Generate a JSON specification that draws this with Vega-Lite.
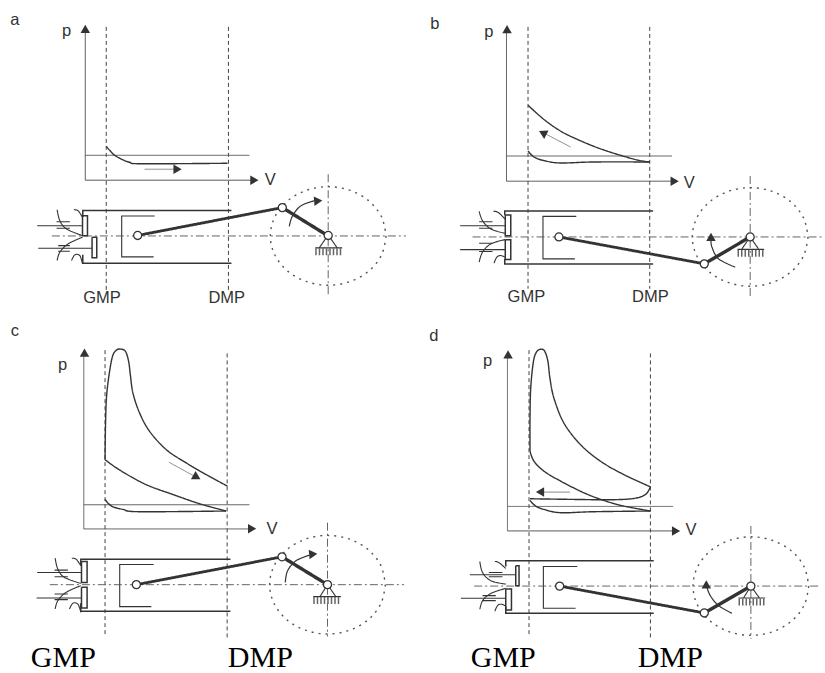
{"$schema":"https://vega.github.io/schema/vega-lite/v6.json","width":825,"height":673,"padding":0,"autosize":{"type":"fit","contains":"padding"},"background":"white","view":{"stroke":null},
"datasets":{
"straight":[
{"s":"a1","k":"axis","x":85.5,"y":30},{"s":"a1","k":"axis","x":85.5,"y":181},{"s":"a1","k":"axis","x":252,"y":181},
{"s":"a2","k":"tdc","x":106.5,"y":27},{"s":"a2","k":"tdc","x":106.5,"y":292},
{"s":"a3","k":"tdc","x":229,"y":27},{"s":"a3","k":"tdc","x":229,"y":292},
{"s":"a4","k":"axis","x":85.5,"y":156},{"s":"a4","k":"axis","x":250,"y":156},
{"s":"a5","k":"arrow","x":145,"y":170},{"s":"a5","k":"arrow","x":175,"y":170},
{"s":"a6","k":"wall","x":83,"y":218},{"s":"a6","k":"wall","x":83,"y":211.5},{"s":"a6","k":"wall","x":232,"y":211.5},
{"s":"a7","k":"wall","x":83,"y":256},{"s":"a7","k":"wall","x":83,"y":264.5},{"s":"a7","k":"wall","x":232,"y":264.5},
{"s":"a8","k":"guide","x":155,"y":217},{"s":"a8","k":"guide","x":122,"y":217},{"s":"a8","k":"guide","x":122,"y":258},{"s":"a8","k":"guide","x":154,"y":258},
{"s":"a9","k":"centre","x":52,"y":237},{"s":"a9","k":"centre","x":407,"y":237},
{"s":"a10","k":"centre","x":329,"y":175},{"s":"a10","k":"centre","x":329,"y":297},
{"s":"a11","k":"rod","x":138,"y":236.5},{"s":"a11","k":"rod","x":283,"y":208.5},
{"s":"a12","k":"crank","x":283,"y":208.5},{"s":"a12","k":"crank","x":329,"y":237},
{"s":"a13","k":"guide","x":320,"y":249},{"s":"a13","k":"guide","x":329,"y":236},{"s":"a13","k":"guide","x":338,"y":249},
{"s":"a14","k":"guide","x":316,"y":249},{"s":"a14","k":"guide","x":343,"y":249},
{"s":"a15","k":"hatch","x":316,"y":253},{"s":"a15","k":"hatch","x":343,"y":253},
{"s":"a16","k":"wall","x":82.7,"y":216.7},{"s":"a16","k":"wall","x":87.7,"y":216.7},{"s":"a16","k":"wall","x":87.7,"y":236.7},{"s":"a16","k":"wall","x":82.7,"y":236.7},{"s":"a16","k":"wall","x":82.7,"y":216.7},
{"s":"a17","k":"wall","x":92.3,"y":238.3},{"s":"a17","k":"wall","x":97,"y":238.3},{"s":"a17","k":"wall","x":97,"y":259},{"s":"a17","k":"wall","x":92.3,"y":259},{"s":"a17","k":"wall","x":92.3,"y":238.3},
{"s":"a18","k":"guide","x":37.3,"y":226.7},{"s":"a18","k":"guide","x":82.7,"y":226.7},
{"s":"a19","k":"guide","x":38.3,"y":249.3},{"s":"a19","k":"guide","x":92.3,"y":249.3},
{"s":"a20","k":"guide","x":56.7,"y":222.7},{"s":"a20","k":"guide","x":70,"y":222.7},
{"s":"a21","k":"guide","x":56.7,"y":229.3},{"s":"a21","k":"guide","x":70,"y":229.3},
{"s":"a22","k":"guide","x":58.3,"y":246.7},{"s":"a22","k":"guide","x":70,"y":246.7},
{"s":"a23","k":"guide","x":58.3,"y":252.3},{"s":"a23","k":"guide","x":70,"y":252.3},

{"s":"b1","k":"axis","x":507.7,"y":30},{"s":"b1","k":"axis","x":507.7,"y":182},{"s":"b1","k":"axis","x":674,"y":182},
{"s":"b2","k":"tdc","x":529.3,"y":27},{"s":"b2","k":"tdc","x":529.3,"y":290},
{"s":"b3","k":"tdc","x":651.3,"y":27},{"s":"b3","k":"tdc","x":651.3,"y":290},
{"s":"b4","k":"axis","x":507.7,"y":156.7},{"s":"b4","k":"axis","x":673.7,"y":156.7},
{"s":"b5","k":"arrow","x":572,"y":147.7},{"s":"b5","k":"arrow","x":545,"y":133.5},
{"s":"b6","k":"wall","x":506,"y":216},{"s":"b6","k":"wall","x":506,"y":212},{"s":"b6","k":"wall","x":654.7,"y":212},
{"s":"b7","k":"wall","x":506,"y":260},{"s":"b7","k":"wall","x":506,"y":265.3},{"s":"b7","k":"wall","x":654.7,"y":265.3},
{"s":"b8","k":"guide","x":577.7,"y":217.3},{"s":"b8","k":"guide","x":544.3,"y":217.3},{"s":"b8","k":"guide","x":544.3,"y":260},{"s":"b8","k":"guide","x":576.3,"y":260},
{"s":"b9","k":"centre","x":473.7,"y":238},{"s":"b9","k":"centre","x":825,"y":238},
{"s":"b10","k":"centre","x":752,"y":176.7},{"s":"b10","k":"centre","x":752,"y":298},
{"s":"b11","k":"rod","x":560.3,"y":238},{"s":"b11","k":"rod","x":706,"y":265},
{"s":"b12","k":"crank","x":706,"y":265},{"s":"b12","k":"crank","x":752,"y":238},
{"s":"b13","k":"guide","x":743.7,"y":250},{"s":"b13","k":"guide","x":752,"y":238},{"s":"b13","k":"guide","x":760.3,"y":250},
{"s":"b14","k":"guide","x":739.3,"y":250.5},{"s":"b14","k":"guide","x":766,"y":250.5},
{"s":"b15","k":"hatch","x":739.3,"y":254.5},{"s":"b15","k":"hatch","x":766,"y":254.5},
{"s":"b16","k":"wall","x":506.5,"y":216},{"s":"b16","k":"wall","x":512,"y":216},{"s":"b16","k":"wall","x":512,"y":236.7},{"s":"b16","k":"wall","x":506.5,"y":236.7},{"s":"b16","k":"wall","x":506.5,"y":216},
{"s":"b17","k":"wall","x":506.5,"y":240.7},{"s":"b17","k":"wall","x":512,"y":240.7},{"s":"b17","k":"wall","x":512,"y":260.7},{"s":"b17","k":"wall","x":506.5,"y":260.7},{"s":"b17","k":"wall","x":506.5,"y":240.7},
{"s":"b18","k":"guide","x":461.3,"y":226.7},{"s":"b18","k":"guide","x":506.3,"y":226.7},
{"s":"b19","k":"guide","x":461.3,"y":250.7},{"s":"b19","k":"guide","x":506.3,"y":250.7},
{"s":"b20","k":"guide","x":480.3,"y":222.7},{"s":"b20","k":"guide","x":493.7,"y":222.7},
{"s":"b21","k":"guide","x":480.3,"y":229.3},{"s":"b21","k":"guide","x":493.7,"y":229.3},
{"s":"b22","k":"guide","x":480.3,"y":244.3},{"s":"b22","k":"guide","x":493.7,"y":244.3},
{"s":"b23","k":"guide","x":480.3,"y":252.7},{"s":"b23","k":"guide","x":493.7,"y":252.7},

{"s":"c1","k":"axis","x":84,"y":357},{"s":"c1","k":"axis","x":84,"y":531.3},{"s":"c1","k":"axis","x":250,"y":531.3},
{"s":"c2","k":"tdc","x":105.3,"y":351.7},{"s":"c2","k":"tdc","x":105.3,"y":638.3},
{"s":"c3","k":"tdc","x":227.7,"y":355},{"s":"c3","k":"tdc","x":227.7,"y":641.7},
{"s":"c4","k":"axis","x":84,"y":507},{"s":"c4","k":"axis","x":250,"y":507},
{"s":"c5","k":"arrow","x":169.3,"y":464.3},{"s":"c5","k":"arrow","x":196.7,"y":479.3},
{"s":"c6","k":"wall","x":81,"y":568},{"s":"c6","k":"wall","x":81,"y":561.7},{"s":"c6","k":"wall","x":231,"y":561.7},
{"s":"c7","k":"wall","x":81,"y":606},{"s":"c7","k":"wall","x":81,"y":614},{"s":"c7","k":"wall","x":231,"y":614},
{"s":"c8","k":"guide","x":154,"y":567},{"s":"c8","k":"guide","x":120,"y":567},{"s":"c8","k":"guide","x":120,"y":609.3},{"s":"c8","k":"guide","x":151.7,"y":609.3},
{"s":"c9","k":"centre","x":50,"y":587.3},{"s":"c9","k":"centre","x":405,"y":587.3},
{"s":"c10","k":"centre","x":328.3,"y":525},{"s":"c10","k":"centre","x":328.3,"y":639.3},
{"s":"c11","k":"rod","x":136.7,"y":587.3},{"s":"c11","k":"rod","x":282.7,"y":559.3},
{"s":"c12","k":"crank","x":282.7,"y":559.3},{"s":"c12","k":"crank","x":328.3,"y":587.3},
{"s":"c13","k":"guide","x":320.7,"y":599.3},{"s":"c13","k":"guide","x":328.3,"y":587.3},{"s":"c13","k":"guide","x":336.7,"y":599.3},
{"s":"c14","k":"guide","x":314,"y":599.3},{"s":"c14","k":"guide","x":341.7,"y":599.3},
{"s":"c15","k":"hatch","x":314,"y":603.3},{"s":"c15","k":"hatch","x":341.7,"y":603.3},
{"s":"c16","k":"wall","x":81.7,"y":564},{"s":"c16","k":"wall","x":87.3,"y":564},{"s":"c16","k":"wall","x":87.3,"y":585},{"s":"c16","k":"wall","x":81.7,"y":585},{"s":"c16","k":"wall","x":81.7,"y":564},
{"s":"c17","k":"wall","x":81.7,"y":590},{"s":"c17","k":"wall","x":87.3,"y":590},{"s":"c17","k":"wall","x":87.3,"y":610.7},{"s":"c17","k":"wall","x":81.7,"y":610.7},{"s":"c17","k":"wall","x":81.7,"y":590},
{"s":"c18","k":"guide","x":37.3,"y":575},{"s":"c18","k":"guide","x":81.7,"y":575},
{"s":"c19","k":"guide","x":36.7,"y":600.7},{"s":"c19","k":"guide","x":81.7,"y":600.7},
{"s":"c20","k":"guide","x":54.7,"y":572.7},{"s":"c20","k":"guide","x":68,"y":572.7},
{"s":"c21","k":"guide","x":54.7,"y":579.3},{"s":"c21","k":"guide","x":68,"y":579.3},
{"s":"c22","k":"guide","x":54.7,"y":596.7},{"s":"c22","k":"guide","x":68,"y":596.7},
{"s":"c23","k":"guide","x":54.7,"y":602.3},{"s":"c23","k":"guide","x":68,"y":602.3},

{"s":"d1","k":"axis","x":508.7,"y":359},{"s":"d1","k":"axis","x":508.7,"y":533.3},{"s":"d1","k":"axis","x":675,"y":533.3},
{"s":"d2","k":"tdc","x":530.3,"y":351.7},{"s":"d2","k":"tdc","x":530.3,"y":638.3},
{"s":"d3","k":"tdc","x":652,"y":355},{"s":"d3","k":"tdc","x":652,"y":641.7},
{"s":"d4","k":"axis","x":508.7,"y":508.7},{"s":"d4","k":"axis","x":674.7,"y":508.7},
{"s":"d5","k":"arrow","x":571.3,"y":494.3},{"s":"d5","k":"arrow","x":543,"y":494.3},
{"s":"d6","k":"wall","x":507,"y":569},{"s":"d6","k":"wall","x":507,"y":563.3},{"s":"d6","k":"wall","x":655.3,"y":563.3},
{"s":"d7","k":"wall","x":507,"y":609},{"s":"d7","k":"wall","x":507,"y":616},{"s":"d7","k":"wall","x":655.3,"y":616},
{"s":"d8","k":"guide","x":578.7,"y":569},{"s":"d8","k":"guide","x":544.7,"y":569},{"s":"d8","k":"guide","x":544.7,"y":611},{"s":"d8","k":"guide","x":577,"y":611},
{"s":"d9","k":"centre","x":475.3,"y":588.7},{"s":"d9","k":"centre","x":820.3,"y":588.7},
{"s":"d10","k":"centre","x":752.7,"y":528.3},{"s":"d10","k":"centre","x":752.7,"y":641.7},
{"s":"d11","k":"rod","x":561,"y":588.7},{"s":"d11","k":"rod","x":706,"y":615.7},
{"s":"d12","k":"crank","x":706,"y":615.7},{"s":"d12","k":"crank","x":752.7,"y":588.7},
{"s":"d13","k":"guide","x":745.3,"y":600.7},{"s":"d13","k":"guide","x":752.7,"y":588.7},{"s":"d13","k":"guide","x":761.3,"y":600.7},
{"s":"d14","k":"guide","x":740.3,"y":600.7},{"s":"d14","k":"guide","x":767,"y":600.7},
{"s":"d15","k":"hatch","x":740.3,"y":604.7},{"s":"d15","k":"hatch","x":767,"y":604.7},
{"s":"d16","k":"wall","x":517,"y":568.3},{"s":"d16","k":"wall","x":520.3,"y":568.3},{"s":"d16","k":"wall","x":520.3,"y":588.3},{"s":"d16","k":"wall","x":517,"y":588.3},{"s":"d16","k":"wall","x":517,"y":568.3},
{"s":"d17","k":"wall","x":507,"y":591.7},{"s":"d17","k":"wall","x":512.7,"y":591.7},{"s":"d17","k":"wall","x":512.7,"y":612.7},{"s":"d17","k":"wall","x":507,"y":612.7},{"s":"d17","k":"wall","x":507,"y":591.7},
{"s":"d18","k":"guide","x":471,"y":577.3},{"s":"d18","k":"guide","x":517,"y":577.3},
{"s":"d19","k":"guide","x":462,"y":601},{"s":"d19","k":"guide","x":507,"y":601},
{"s":"d20","k":"guide","x":490,"y":575},{"s":"d20","k":"guide","x":503.7,"y":575},
{"s":"d21","k":"guide","x":490,"y":579.3},{"s":"d21","k":"guide","x":503.7,"y":579.3},
{"s":"d22","k":"guide","x":483.7,"y":598.3},{"s":"d22","k":"guide","x":497,"y":598.3},
{"s":"d23","k":"guide","x":483.7,"y":603.3},{"s":"d23","k":"guide","x":497,"y":603.3}
],
"smooth":[
{"s":"a30","k":"curve","x":106.5,"y":147},{"s":"a30","k":"curve","x":110,"y":151},{"s":"a30","k":"curve","x":115,"y":156},{"s":"a30","k":"curve","x":122,"y":160},{"s":"a30","k":"curve","x":130,"y":163},{"s":"a30","k":"curve","x":142,"y":164.5},{"s":"a30","k":"curve","x":228,"y":164},
{"s":"a31","k":"guide","x":57.3,"y":210.7},{"s":"a31","k":"guide","x":60,"y":221.7},{"s":"a31","k":"guide","x":66.7,"y":230},{"s":"a31","k":"guide","x":82.7,"y":236.7},
{"s":"a32","k":"guide","x":74,"y":210.7},{"s":"a32","k":"guide","x":78.3,"y":211.7},{"s":"a32","k":"guide","x":82.7,"y":218.3},
{"s":"a33","k":"guide","x":57.3,"y":261.7},{"s":"a33","k":"guide","x":60,"y":253.3},{"s":"a33","k":"guide","x":68.3,"y":245},{"s":"a33","k":"guide","x":82.7,"y":238.3},
{"s":"a34","k":"guide","x":71.7,"y":261.7},{"s":"a34","k":"guide","x":75,"y":256},{"s":"a34","k":"guide","x":80,"y":256.7},{"s":"a34","k":"guide","x":82.7,"y":265},
{"s":"a35","k":"arrow2","x":290,"y":227.3},{"s":"a35","k":"arrow2","x":293.3,"y":216.7},{"s":"a35","k":"arrow2","x":301.7,"y":206.7},{"s":"a35","k":"arrow2","x":315,"y":201.7},
{"s":"a36","k":"circle","x":387,"y":237},{"s":"a36","k":"circle","x":382.6,"y":255.9},{"s":"a36","k":"circle","x":370,"y":272},{"s":"a36","k":"circle","x":351.2,"y":282.7},{"s":"a36","k":"circle","x":329,"y":286.5},{"s":"a36","k":"circle","x":306.8,"y":282.7},{"s":"a36","k":"circle","x":288,"y":272},{"s":"a36","k":"circle","x":275.4,"y":255.9},{"s":"a36","k":"circle","x":271,"y":237},{"s":"a36","k":"circle","x":275.4,"y":218.1},{"s":"a36","k":"circle","x":288,"y":202},{"s":"a36","k":"circle","x":306.8,"y":191.3},{"s":"a36","k":"circle","x":329,"y":187.5},{"s":"a36","k":"circle","x":351.2,"y":191.3},{"s":"a36","k":"circle","x":370,"y":202},{"s":"a36","k":"circle","x":382.6,"y":218.1},{"s":"a36","k":"circle","x":387,"y":237},

{"s":"b30","k":"curve","x":529.3,"y":105.7},{"s":"b30","k":"curve","x":545.3,"y":120},{"s":"b30","k":"curve","x":562,"y":131.7},{"s":"b30","k":"curve","x":578.7,"y":140},{"s":"b30","k":"curve","x":598.7,"y":148.3},{"s":"b30","k":"curve","x":618.7,"y":155},{"s":"b30","k":"curve","x":638.7,"y":160.7},{"s":"b30","k":"curve","x":651.3,"y":162.7},
{"s":"b37","k":"curve","x":529.3,"y":151.7},{"s":"b37","k":"curve","x":535.3,"y":157.7},{"s":"b37","k":"curve","x":545.3,"y":161.3},{"s":"b37","k":"curve","x":562,"y":163.7},{"s":"b37","k":"curve","x":595.3,"y":162.7},{"s":"b37","k":"curve","x":651.3,"y":162.7},
{"s":"b31","k":"guide","x":480.3,"y":212.3},{"s":"b31","k":"guide","x":483.7,"y":221.7},{"s":"b31","k":"guide","x":492,"y":230},{"s":"b31","k":"guide","x":506.3,"y":234.3},
{"s":"b32","k":"guide","x":494.7,"y":212.3},{"s":"b32","k":"guide","x":499.3,"y":213.3},{"s":"b32","k":"guide","x":506.3,"y":220},
{"s":"b33","k":"guide","x":480.3,"y":263.3},{"s":"b33","k":"guide","x":483.7,"y":253.3},{"s":"b33","k":"guide","x":492,"y":245},{"s":"b33","k":"guide","x":506.3,"y":240.7},
{"s":"b34","k":"guide","x":495.3,"y":264.3},{"s":"b34","k":"guide","x":498,"y":258.3},{"s":"b34","k":"guide","x":502,"y":256.7},{"s":"b34","k":"guide","x":506.3,"y":258.3},
{"s":"b35","k":"arrow2","x":737,"y":268.3},{"s":"b35","k":"arrow2","x":720.3,"y":260},{"s":"b35","k":"arrow2","x":713.7,"y":248.3},{"s":"b35","k":"arrow2","x":712.7,"y":241},
{"s":"b36","k":"circle","x":810,"y":238},{"s":"b36","k":"circle","x":805.6,"y":256.9},{"s":"b36","k":"circle","x":793,"y":273},{"s":"b36","k":"circle","x":774.2,"y":283.7},{"s":"b36","k":"circle","x":752,"y":287.5},{"s":"b36","k":"circle","x":729.8,"y":283.7},{"s":"b36","k":"circle","x":711,"y":273},{"s":"b36","k":"circle","x":698.4,"y":256.9},{"s":"b36","k":"circle","x":694,"y":238},{"s":"b36","k":"circle","x":698.4,"y":219.1},{"s":"b36","k":"circle","x":711,"y":203},{"s":"b36","k":"circle","x":729.8,"y":192.3},{"s":"b36","k":"circle","x":752,"y":188.5},{"s":"b36","k":"circle","x":774.2,"y":192.3},{"s":"b36","k":"circle","x":793,"y":203},{"s":"b36","k":"circle","x":805.6,"y":219.1},{"s":"b36","k":"circle","x":810,"y":238},

{"s":"c30","k":"curve","x":105.3,"y":461.7},{"s":"c30","k":"curve","x":105.7,"y":430},{"s":"c30","k":"curve","x":106.7,"y":400},{"s":"c30","k":"curve","x":109.3,"y":376.7},{"s":"c30","k":"curve","x":112.7,"y":358.3},{"s":"c30","k":"curve","x":116.7,"y":351.7},{"s":"c30","k":"curve","x":121.7,"y":350.7},{"s":"c30","k":"curve","x":126,"y":353.3},{"s":"c30","k":"curve","x":129,"y":363.3},{"s":"c30","k":"curve","x":130.7,"y":376.7},{"s":"c30","k":"curve","x":133.3,"y":395},{"s":"c30","k":"curve","x":140,"y":415},{"s":"c30","k":"curve","x":150,"y":433.3},{"s":"c30","k":"curve","x":166.7,"y":451.7},{"s":"c30","k":"curve","x":186.7,"y":465},{"s":"c30","k":"curve","x":206.7,"y":476.7},{"s":"c30","k":"curve","x":228,"y":488.3},
{"s":"c37","k":"curve","x":105.3,"y":461.7},{"s":"c37","k":"curve","x":116.7,"y":470},{"s":"c37","k":"curve","x":133.3,"y":480},{"s":"c37","k":"curve","x":150,"y":488.3},{"s":"c37","k":"curve","x":173.3,"y":496.7},{"s":"c37","k":"curve","x":200,"y":506},{"s":"c37","k":"curve","x":226.7,"y":513.3},
{"s":"c38","k":"curve","x":105.3,"y":501.7},{"s":"c38","k":"curve","x":111.7,"y":508.3},{"s":"c38","k":"curve","x":123.3,"y":511.7},{"s":"c38","k":"curve","x":140,"y":514},{"s":"c38","k":"curve","x":226.7,"y":513.3},
{"s":"c31","k":"guide","x":55.3,"y":560.7},{"s":"c31","k":"guide","x":58,"y":571.7},{"s":"c31","k":"guide","x":64.7,"y":580},{"s":"c31","k":"guide","x":81,"y":586},
{"s":"c32","k":"guide","x":72,"y":560.7},{"s":"c32","k":"guide","x":76.3,"y":561.7},{"s":"c32","k":"guide","x":81,"y":568.3},
{"s":"c33","k":"guide","x":55.3,"y":611.7},{"s":"c33","k":"guide","x":58,"y":603.3},{"s":"c33","k":"guide","x":66.3,"y":595},{"s":"c33","k":"guide","x":81,"y":588.3},
{"s":"c34","k":"guide","x":69.7,"y":611.7},{"s":"c34","k":"guide","x":73,"y":606},{"s":"c34","k":"guide","x":78,"y":606.7},{"s":"c34","k":"guide","x":81,"y":615},
{"s":"c35","k":"arrow2","x":286,"y":585},{"s":"c35","k":"arrow2","x":288.3,"y":573.3},{"s":"c35","k":"arrow2","x":296.7,"y":563.3},{"s":"c35","k":"arrow2","x":310,"y":557.7},
{"s":"c36","k":"circle","x":386.3,"y":587.3},{"s":"c36","k":"circle","x":381.9,"y":606.2},{"s":"c36","k":"circle","x":369.3,"y":622.3},{"s":"c36","k":"circle","x":350.5,"y":633},{"s":"c36","k":"circle","x":328.3,"y":636.8},{"s":"c36","k":"circle","x":306.1,"y":633},{"s":"c36","k":"circle","x":287.3,"y":622.3},{"s":"c36","k":"circle","x":274.7,"y":606.2},{"s":"c36","k":"circle","x":270.3,"y":587.3},{"s":"c36","k":"circle","x":274.7,"y":568.4},{"s":"c36","k":"circle","x":287.3,"y":552.3},{"s":"c36","k":"circle","x":306.1,"y":541.6},{"s":"c36","k":"circle","x":328.3,"y":537.8},{"s":"c36","k":"circle","x":350.5,"y":541.6},{"s":"c36","k":"circle","x":369.3,"y":552.3},{"s":"c36","k":"circle","x":381.9,"y":568.4},{"s":"c36","k":"circle","x":386.3,"y":587.3},

{"s":"d30","k":"curve","x":531.3,"y":453.3},{"s":"d30","k":"curve","x":531.3,"y":420},{"s":"d30","k":"curve","x":532,"y":390},{"s":"d30","k":"curve","x":534.7,"y":363.3},{"s":"d30","k":"curve","x":538,"y":353.3},{"s":"d30","k":"curve","x":542.7,"y":350.7},{"s":"d30","k":"curve","x":546.3,"y":353.3},{"s":"d30","k":"curve","x":549.3,"y":363.3},{"s":"d30","k":"curve","x":551.3,"y":380},{"s":"d30","k":"curve","x":555.3,"y":400},{"s":"d30","k":"curve","x":565.3,"y":425},{"s":"d30","k":"curve","x":582,"y":446.7},{"s":"d30","k":"curve","x":602,"y":463.3},{"s":"d30","k":"curve","x":625.3,"y":476.7},{"s":"d30","k":"curve","x":652,"y":489},
{"s":"d39","k":"curve","x":652,"y":489},{"s":"d39","k":"curve","x":647,"y":496.7},{"s":"d39","k":"curve","x":635.3,"y":500.7},{"s":"d39","k":"curve","x":612,"y":502},{"s":"d39","k":"curve","x":578.7,"y":501.7},{"s":"d39","k":"curve","x":531.3,"y":501},
{"s":"d37","k":"curve","x":531.3,"y":453.3},{"s":"d37","k":"curve","x":535.3,"y":463.3},{"s":"d37","k":"curve","x":545.3,"y":473.3},{"s":"d37","k":"curve","x":562,"y":483.3},{"s":"d37","k":"curve","x":585.3,"y":495},{"s":"d37","k":"curve","x":605.3,"y":502.7},{"s":"d37","k":"curve","x":625.3,"y":508.3},{"s":"d37","k":"curve","x":652,"y":513.3},
{"s":"d38","k":"curve","x":531.3,"y":502.7},{"s":"d38","k":"curve","x":537,"y":508.3},{"s":"d38","k":"curve","x":545.3,"y":511.7},{"s":"d38","k":"curve","x":562,"y":515},{"s":"d38","k":"curve","x":595.3,"y":514},{"s":"d38","k":"curve","x":652,"y":513.3},
{"s":"d31","k":"guide","x":481,"y":564},{"s":"d31","k":"guide","x":483.7,"y":575},{"s":"d31","k":"guide","x":492,"y":583.3},{"s":"d31","k":"guide","x":507,"y":586.7},
{"s":"d32","k":"guide","x":496,"y":564},{"s":"d32","k":"guide","x":500,"y":565},{"s":"d32","k":"guide","x":507,"y":571},
{"s":"d33","k":"guide","x":481,"y":612},{"s":"d33","k":"guide","x":484,"y":603},{"s":"d33","k":"guide","x":492.3,"y":596},{"s":"d33","k":"guide","x":507,"y":591},
{"s":"d34","k":"guide","x":496,"y":614},{"s":"d34","k":"guide","x":499,"y":608},{"s":"d34","k":"guide","x":503,"y":607},{"s":"d34","k":"guide","x":507,"y":609},
{"s":"d35","k":"arrow2","x":733.7,"y":616},{"s":"d35","k":"arrow2","x":720.3,"y":608.3},{"s":"d35","k":"arrow2","x":712,"y":598.3},{"s":"d35","k":"arrow2","x":708.7,"y":590},
{"s":"d36","k":"circle","x":810.7,"y":588.7},{"s":"d36","k":"circle","x":806.3,"y":607.6},{"s":"d36","k":"circle","x":793.7,"y":623.7},{"s":"d36","k":"circle","x":774.9,"y":634.4},{"s":"d36","k":"circle","x":752.7,"y":638.2},{"s":"d36","k":"circle","x":730.5,"y":634.4},{"s":"d36","k":"circle","x":711.7,"y":623.7},{"s":"d36","k":"circle","x":699.1,"y":607.6},{"s":"d36","k":"circle","x":694.7,"y":588.7},{"s":"d36","k":"circle","x":699.1,"y":569.8},{"s":"d36","k":"circle","x":711.7,"y":553.7},{"s":"d36","k":"circle","x":730.5,"y":543},{"s":"d36","k":"circle","x":752.7,"y":539.2},{"s":"d36","k":"circle","x":774.9,"y":543},{"s":"d36","k":"circle","x":793.7,"y":553.7},{"s":"d36","k":"circle","x":806.3,"y":569.8},{"s":"d36","k":"circle","x":810.7,"y":588.7}
],
"heads":[
{"x":85.5,"y":29,"h":0},{"x":255,"y":181,"h":90},{"x":178,"y":170,"h":90},{"x":319,"y":201.7,"h":85},
{"x":508.3,"y":29.3,"h":0},{"x":676.3,"y":182,"h":90},{"x":544,"y":133.5,"h":297},{"x":712.7,"y":238,"h":0},
{"x":84.7,"y":354.3,"h":0},{"x":252.7,"y":531,"h":90},{"x":197.3,"y":479.3,"h":119},{"x":314,"y":556.7,"h":85},
{"x":509.3,"y":356,"h":0},{"x":677.7,"y":533.3,"h":90},{"x":541.3,"y":494.3,"h":270},{"x":708,"y":587,"h":0}
],
"pins":[
{"x":138,"y":236.5},{"x":283,"y":208.5},{"x":329,"y":236.5},
{"x":560.3,"y":238},{"x":706,"y":265},{"x":752,"y":238},
{"x":136.7,"y":587.3},{"x":282.7,"y":559.3},{"x":328.3,"y":587.3},
{"x":561,"y":588.7},{"x":706,"y":615.7},{"x":752.7,"y":588.7}
],
"sans":[
{"t":"a","x":15,"y":20},{"t":"b","x":436,"y":24},{"t":"c","x":15,"y":332},{"t":"d","x":435,"y":338},
{"t":"p","x":66.7,"y":31},{"t":"p","x":490,"y":32},{"t":"p","x":62.7,"y":367},{"t":"p","x":488.7,"y":363},
{"t":"V","x":271,"y":181},{"t":"V","x":691,"y":184},{"t":"V","x":272.7,"y":531},{"t":"V","x":692.7,"y":532},
{"t":"GMP","x":102.3,"y":299},{"t":"DMP","x":227.3,"y":299},{"t":"GMP","x":527.7,"y":298.3},{"t":"DMP","x":652,"y":298.3}
],
"serif":[
{"t":"GMP","x":63.5,"y":670},{"t":"DMP","x":261,"y":670},{"t":"GMP","x":504.5,"y":670},{"t":"DMP","x":672,"y":670}
]},
"encoding":{
"x":{"field":"x","type":"quantitative","scale":{"domain":[0,825],"nice":false,"zero":false},"axis":null},
"y":{"field":"y","type":"quantitative","scale":{"domain":[673,0],"nice":false,"zero":false},"axis":null}
},
"layer":[
{"data":{"name":"straight"},"transform":[{"window":[{"op":"row_number","as":"o"}]}],"mark":{"type":"line","strokeCap":"butt","strokeJoin":"miter"},
"encoding":{"detail":{"field":"s"},"order":{"field":"o","type":"quantitative"},
"color":{"field":"k","type":"nominal","legend":null,"scale":{"domain":["arrow","arrow2","axis","centre","circle","crank","curve","guide","hatch","rod","tdc","wall"],"range":["#777777","#333333","#555555","#555555","#555555","#333333","#333333","#333333","#666666","#333333","#444444","#333333"]}},
"strokeWidth":{"field":"k","type":"nominal","legend":null,"scale":{"type":"ordinal","domain":["arrow","arrow2","axis","centre","circle","crank","curve","guide","hatch","rod","tdc","wall"],"range":[0.9,1.2,1,0.9,1.4,3.4,1.4,1.1,7,2.8,1,1.5]}},
"strokeDash":{"field":"k","type":"nominal","legend":null,"scale":{"domain":["arrow","arrow2","axis","centre","circle","crank","curve","guide","hatch","rod","tdc","wall"],"range":[[1,0],[1,0],[1,0],[8,3,2,3],[2,5],[1,0],[1,0],[1,0],[1.5,2],[1,0],[4,3],[1,0]]}}}},
{"data":{"name":"smooth"},"transform":[{"window":[{"op":"row_number","as":"o"}]}],"mark":{"type":"line","interpolate":"cardinal"},
"encoding":{"detail":{"field":"s"},"order":{"field":"o","type":"quantitative"},
"color":{"field":"k","type":"nominal","legend":null,"scale":{"domain":["arrow","arrow2","axis","centre","circle","crank","curve","guide","hatch","rod","tdc","wall"],"range":["#777777","#333333","#555555","#555555","#555555","#333333","#333333","#333333","#666666","#333333","#444444","#333333"]}},
"strokeWidth":{"field":"k","type":"nominal","legend":null,"scale":{"type":"ordinal","domain":["arrow","arrow2","axis","centre","circle","crank","curve","guide","hatch","rod","tdc","wall"],"range":[0.9,1.2,1,0.9,1.4,3.4,1.4,1.1,7,2.8,1,1.5]}},
"strokeDash":{"field":"k","type":"nominal","legend":null,"scale":{"domain":["arrow","arrow2","axis","centre","circle","crank","curve","guide","hatch","rod","tdc","wall"],"range":[[1,0],[1,0],[1,0],[8,3,2,3],[2,5],[1,0],[1,0],[1,0],[1.5,2],[1,0],[4,3],[1,0]]}}}},
{"data":{"name":"heads"},"mark":{"type":"point","shape":"triangle-up","filled":true,"color":"#333333","opacity":1,"size":90},
"encoding":{"angle":{"field":"h","type":"quantitative","scale":null}}},
{"data":{"name":"pins"},"mark":{"type":"point","shape":"circle","filled":true,"fill":"#ffffff","stroke":"#333333","strokeWidth":1.3,"opacity":1,"size":65}},
{"data":{"name":"sans"},"mark":{"type":"text","font":"Liberation Sans","fontSize":16.5,"color":"#333333","align":"center","baseline":"middle"},"encoding":{"text":{"field":"t"}}},
{"data":{"name":"serif"},"mark":{"type":"text","font":"Liberation Serif","fontSize":30,"color":"#000000","align":"center","baseline":"alphabetic"},"encoding":{"text":{"field":"t"}}}
]}
